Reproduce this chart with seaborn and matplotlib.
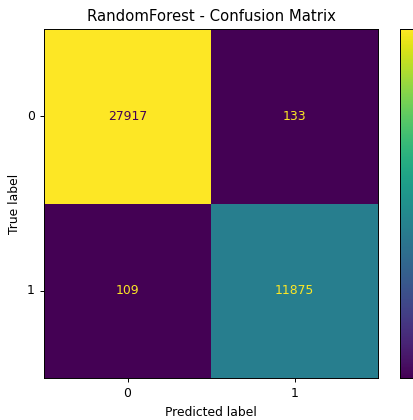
import numpy as np
import pandas as pd
import matplotlib
matplotlib.use("Agg")
import matplotlib.pyplot as plt
import seaborn as sns

labels = ["0", "1"]
row_true0 = [27917, 133]
row_true1 = [109, 11875]
title = "RandomForest - Confusion Matrix"

cm = np.array([row_true0, row_true1])
df = pd.DataFrame(cm, index=labels, columns=labels)

fs = 8.9
fig = plt.figure(figsize=(4.14, 4.2), dpi=100)
ax = fig.add_axes([44/414, 42/420, 334/414, 349/420])
cax = fig.add_axes([400/414, 42/420, 0.045, 349/420])

cmap = plt.get_cmap("viridis")
sns.heatmap(df, ax=ax, cbar_ax=cax, cmap=cmap, annot=True, fmt="d",
            annot_kws={"fontsize": fs}, vmin=cm.min(), vmax=cm.max(),
            linewidths=0)

thresh = (cm.max() + cm.min()) / 2.0
vals = cm.flatten()
for t, v in zip(ax.texts, vals):
    t.set_color(cmap(0.0) if v >= thresh else cmap(1.0))

for s in ax.spines.values():
    s.set_visible(True)
    s.set_linewidth(0.7)
    s.set_color("black")
for s in cax.spines.values():
    s.set_visible(True)
    s.set_linewidth(0.7)
cax.tick_params(length=0, labelsize=0, labelright=False)

ax.set_xlabel("Predicted label", fontsize=fs)
ax.set_ylabel("True label", fontsize=fs)
ax.set_title(title, fontsize=10.7, pad=5.5)
ax.tick_params(axis="both", length=3.1, width=0.7, labelsize=fs)
ax.set_yticklabels(labels, rotation=0)
ax.set_xticklabels(labels, rotation=0)

fig.savefig("out.png", dpi=100)
